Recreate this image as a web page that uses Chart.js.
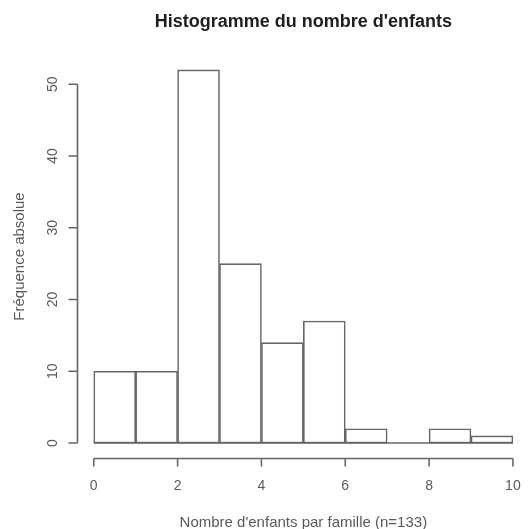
<!DOCTYPE html>
<html><head><meta charset="utf-8">
<script src="https://cdn.jsdelivr.net/npm/chart.js@4/dist/chart.umd.min.js"></script>
<style>html,body{margin:0;padding:0;background:#fff;overflow:hidden}canvas{display:block}</style>
</head><body>
<canvas id="c" width="528" height="529"></canvas>
<script>
const binEdges = [0,1,2,3,4,5,6,7,8,9,10];
const counts = [10,10,52,25,14,17,2,0,2,1];
const xTicks = [0,2,4,6,8,10];
const yTicks = [0,10,20,30,40,50];
const titleText = "Histogramme du nombre d'enfants";
const xTitle = "Nombre d'enfants par famille (n=133)";
const yTitle = "Fréquence absolue";

const points = counts.map((c,i)=>({x:(binEdges[i]+binEdges[i+1])/2, y:c}));
const LINE = '#666';
const LW = 1.6;
const TXT = '#5a5a5a';
const FONT = '"Liberation Sans", Arial, sans-serif';

const rAxes = {
  id:'rAxes',
  afterDraw(chart){
    const ctx = chart.ctx, xs = chart.scales.x, ys = chart.scales.y, a = chart.chartArea;
    ctx.save();
    ctx.strokeStyle = LINE; ctx.lineWidth = LW;
    const y0 = ys.getPixelForValue(0);
    ctx.beginPath();
    ctx.moveTo(xs.getPixelForValue(binEdges[0]), y0);
    ctx.lineTo(xs.getPixelForValue(binEdges[binEdges.length-1]), y0);
    ctx.stroke();
    const xa = Math.round(a.bottom)+0.5;
    ctx.beginPath();
    ctx.moveTo(xs.getPixelForValue(xTicks[0]), xa);
    ctx.lineTo(xs.getPixelForValue(xTicks[xTicks.length-1]), xa);
    xTicks.forEach(t=>{const p=xs.getPixelForValue(t); ctx.moveTo(p,xa); ctx.lineTo(p,xa+8);});
    ctx.stroke();
    const ya = Math.round(a.left)+0.5;
    ctx.beginPath();
    ctx.moveTo(ya, ys.getPixelForValue(yTicks[0]));
    ctx.lineTo(ya, ys.getPixelForValue(yTicks[yTicks.length-1]));
    yTicks.forEach(t=>{const p=ys.getPixelForValue(t); ctx.moveTo(ya,p); ctx.lineTo(ya-9,p);});
    ctx.stroke();
    ctx.fillStyle = TXT;
    ctx.font = '14px ' + FONT;
    ctx.textAlign = 'center'; ctx.textBaseline = 'middle';
    xTicks.forEach(t=>ctx.fillText(String(t), xs.getPixelForValue(t), xa+28));
    yTicks.forEach(t=>{
      ctx.save(); ctx.translate(ya-24, ys.getPixelForValue(t)); ctx.rotate(-Math.PI/2);
      ctx.fillText(String(t),0,0); ctx.restore();
    });
    const cx = (xs.getPixelForValue(xTicks[0])+xs.getPixelForValue(xTicks[xTicks.length-1]))/2;
    ctx.font = '15px ' + FONT;
    ctx.fillText(xTitle, cx, xa+64);
    ctx.save(); ctx.translate(20,(a.top+a.bottom)/2); ctx.rotate(-Math.PI/2);
    ctx.fillText(yTitle,0,0); ctx.restore();
    ctx.fillStyle = '#1e1e1e';
    ctx.font = 'bold 18px ' + FONT;
    ctx.fillText(titleText, cx, 22);
    ctx.restore();
  }
};

new Chart(document.getElementById('c'), {
  type:'bar',
  data:{datasets:[{data:points, backgroundColor:'#fff', borderColor:LINE, borderWidth:LW, borderSkipped:false,
    barPercentage:1, categoryPercentage:1}]},
  options:{
    responsive:false, animation:false, events:[],
    layout:{padding:{top:55, bottom:71, left:77, right:0}},
    plugins:{legend:{display:false}, title:{display:false}, tooltip:{enabled:false}},
    scales:{
      x:{type:'linear', min:-0.4, max:10.36, offset:false, display:false},
      y:{type:'linear', min:-2.08, max:54.08, display:false}
    }
  },
  plugins:[rAxes]
});
</script>
</body></html>
